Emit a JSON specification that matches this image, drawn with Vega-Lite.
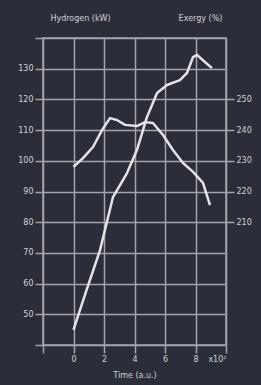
{
  "$schema": "https://vega.github.io/schema/vega-lite/v6.json",
  "width": 183,
  "height": 307,
  "autosize": {"type": "none"},
  "padding": {"left": 43, "top": 38, "right": 35, "bottom": 40},
  "background": "#2b2e39",
  "config": {
    "view": {"stroke": "#a3a5ab", "strokeWidth": 1.5},
    "axis": {
      "labelColor": "#d0d1d4",
      "titleColor": "#d0d1d4",
      "labelFont": "DejaVu Sans",
      "titleFont": "DejaVu Sans",
      "labelFontSize": 8,
      "titleFontSize": 8,
      "titleFontWeight": "normal",
      "gridColor": "#a3a5ab",
      "gridWidth": 1.5,
      "gridOpacity": 1,
      "tickColor": "#a3a5ab",
      "tickWidth": 1.5,
      "labelOverlap": false,
      "domain": false
    }
  },
  "datasets": {
    "hydrogen": [
      {"t": 0.0, "v": 44.9},
      {"t": 0.75, "v": 56.3},
      {"t": 1.74, "v": 70.9},
      {"t": 2.59, "v": 88.2},
      {"t": 3.51, "v": 96.0},
      {"t": 4.16, "v": 103.5},
      {"t": 4.82, "v": 114.3},
      {"t": 5.48, "v": 122.1},
      {"t": 6.13, "v": 124.7},
      {"t": 6.98, "v": 126.3},
      {"t": 7.44, "v": 128.6},
      {"t": 7.84, "v": 133.8},
      {"t": 8.1, "v": 134.5},
      {"t": 8.62, "v": 132.2},
      {"t": 9.08, "v": 130.2}
    ],
    "exergy": [
      {"t": 0.0, "v": 228.0},
      {"t": 0.62, "v": 230.9},
      {"t": 1.28, "v": 234.5},
      {"t": 1.87, "v": 240.0},
      {"t": 2.39, "v": 243.9},
      {"t": 2.85, "v": 243.3},
      {"t": 3.38, "v": 241.7},
      {"t": 4.16, "v": 241.3},
      {"t": 4.69, "v": 242.6},
      {"t": 5.21, "v": 242.3},
      {"t": 5.87, "v": 238.4},
      {"t": 6.52, "v": 233.5},
      {"t": 7.18, "v": 229.3},
      {"t": 7.84, "v": 226.4},
      {"t": 8.49, "v": 222.8},
      {"t": 8.95, "v": 215.6}
    ]
  },
  "encoding": {
    "x": {
      "field": "t", "type": "quantitative",
      "scale": {"domain": [-2, 10], "nice": false},
      "axis": {
        "values": [-2, 0, 2, 4, 6, 8, 10],
        "labelOverlap": false,
        "labelFlush": false,
        "labelBound": false,
        "labelExpr": "datum.value == 10 ? 'x10²' : (datum.value < 0 ? '' : datum.label)",
        "labelAlign": {"condition": {"test": "datum.value == 10", "value": "right"}, "value": "center"},
        "tickSize": 8,
        "labelPadding": 2,
        "title": "Time (a.u.)",
        "titlePadding": 8
      }
    }
  },
  "layer": [
    {
      "data": {"name": "hydrogen"},
      "mark": {"type": "line", "color": "#e4e4e6", "strokeWidth": 2.5, "interpolate": "linear", "strokeJoin": "round"},
      "encoding": {
        "y": {
          "field": "v", "type": "quantitative",
          "scale": {"domain": [40, 140], "nice": false},
          "axis": {
            "values": [40, 50, 60, 70, 80, 90, 100, 110, 120, 130, 140],
            "labelExpr": "datum.value == 40 || datum.value == 140 ? '' : datum.label",
            "tickSize": 8,
            "labelPadding": 2,
            "title": "Hydrogen (kW)",
            "titleAngle": 0,
            "titleAlign": "center",
            "titleBaseline": "middle",
            "titleX": 37,
            "titleY": -20
          }
        }
      }
    },
    {
      "data": {"name": "exergy"},
      "mark": {"type": "line", "color": "#e4e4e6", "strokeWidth": 2.5, "interpolate": "linear", "strokeJoin": "round"},
      "encoding": {
        "y": {
          "field": "v", "type": "quantitative",
          "scale": {"domain": [170, 270], "nice": false},
          "axis": {
            "orient": "right",
            "grid": false,
            "values": [210, 220, 230, 240, 250],
            "tickSize": 8,
            "labelPadding": 2,
            "title": "Exergy (%)",
            "titleAngle": 0,
            "titleAlign": "center",
            "titleBaseline": "middle",
            "titleX": -26,
            "titleY": -20
          }
        }
      }
    }
  ],
  "resolve": {"scale": {"y": "independent"}}
}
